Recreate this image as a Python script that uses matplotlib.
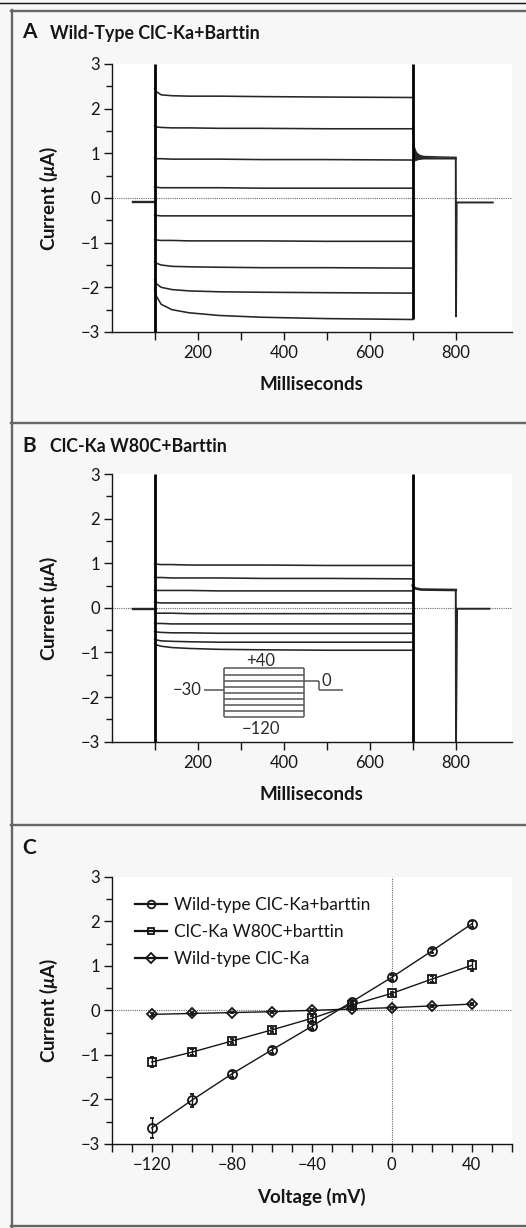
import matplotlib
matplotlib.use('Agg')
import matplotlib.pyplot as plt
from matplotlib.lines import Line2D
from matplotlib.ticker import MultipleLocator, FixedLocator

plt.rcParams['font.family'] = ['Lato', 'DejaVu Sans']
plt.rcParams['mathtext.fontset'] = 'custom'
plt.rcParams['mathtext.it'] = 'Lato:italic:bold'
plt.rcParams['mathtext.rm'] = 'Lato:bold'
plt.rcParams['mathtext.bf'] = 'Lato:bold'
plt.rcParams['axes.unicode_minus'] = True

# ------------------------------------------------------------------ data
# Panel A: wild-type ClC-Ka + barttin, current traces (uA) vs time (ms)
pulse_t = [100, 104, 115, 140, 180, 250, 350, 500, 700]
a_sweeps = [
    [2.45, 2.38, 2.31, 2.29, 2.28, 2.28, 2.27, 2.26, 2.25],
    [1.62, 1.59, 1.58, 1.57, 1.57, 1.56, 1.56, 1.55, 1.55],
    [0.90, 0.88, 0.88, 0.87, 0.87, 0.87, 0.86, 0.86, 0.85],
    [0.25, 0.24, 0.23, 0.23, 0.23, 0.23, 0.22, 0.22, 0.22],
    [-0.38, -0.39, -0.40, -0.40, -0.40, -0.40, -0.40, -0.40, -0.40],
    [-0.93, -0.94, -0.95, -0.95, -0.96, -0.96, -0.96, -0.97, -0.97],
    [-1.42, -1.46, -1.50, -1.53, -1.54, -1.55, -1.56, -1.56, -1.57],
    [-1.83, -1.92, -2.00, -2.05, -2.08, -2.10, -2.11, -2.12, -2.13],
    [-2.05, -2.20, -2.38, -2.50, -2.57, -2.63, -2.67, -2.70, -2.72],
]
pre_t = [50, 100]
a_hold = [-0.10, -0.10]
a_tail_t = [700, 703, 708, 715, 725, 800]
a_tail_hi = [1.60, 1.15, 1.02, 0.96, 0.93, 0.91]
a_tail_lo = [0.80, 0.83, 0.85, 0.87, 0.88, 0.88]
a_post_t = [800, 800.5, 802, 886]
a_post = [0.90, -2.65, -0.10, -0.10]
spike_t = [100, 700]
a_spike_lo = [-3.0, -2.72]
a_spike_hi = [3.0, 3.0]

# Panel B: ClC-Ka W80C + barttin
b_sweeps = [
    [0.99, 0.98, 0.97, 0.97, 0.96, 0.96, 0.96, 0.95, 0.95],
    [0.69, 0.68, 0.68, 0.67, 0.67, 0.67, 0.66, 0.66, 0.65],
    [0.40, 0.39, 0.39, 0.39, 0.39, 0.38, 0.38, 0.38, 0.38],
    [0.12, 0.12, 0.11, 0.11, 0.11, 0.11, 0.11, 0.11, 0.11],
    [-0.12, -0.12, -0.12, -0.12, -0.13, -0.13, -0.13, -0.13, -0.13],
    [-0.34, -0.35, -0.35, -0.36, -0.36, -0.36, -0.36, -0.36, -0.36],
    [-0.53, -0.54, -0.55, -0.56, -0.56, -0.57, -0.57, -0.57, -0.57],
    [-0.70, -0.72, -0.74, -0.75, -0.76, -0.77, -0.77, -0.77, -0.77],
    [-0.80, -0.83, -0.86, -0.89, -0.91, -0.93, -0.94, -0.95, -0.95],
]
b_hold = [-0.02, -0.02]
b_tail_t = [700, 702, 708, 720, 800]
b_tail = [0.50, 0.46, 0.43, 0.41, 0.40]
b_post_t = [800, 800.5, 803, 878]
b_post = [0.40, -3.0, -0.02, -0.02]
b_spike_lo = [-3.0, -3.0]
b_spike_hi = [3.0, 3.0]

# Voltage protocol inset (mV), schematic time units
proto_steps = [40, 20, 0, -20, -40, -60, -80, -100, -120]
proto_hold = -30
proto_tail = 0
proto_t = [0, 150, 750, 865, 1040]

# Panel C: current-voltage relation
volt = [-120, -100, -80, -60, -40, -20, 0, 20, 40]
wt_barttin = [-2.64, -2.02, -1.43, -0.89, -0.36, 0.19, 0.74, 1.33, 1.94]
wt_barttin_err = [0.22, 0.15, 0.07, 0.06, 0.05, 0.04, 0.05, 0.05, 0.06]
w80c = [-1.16, -0.94, -0.69, -0.44, -0.18, 0.12, 0.38, 0.70, 1.01]
w80c_err = [0.12, 0.07, 0.05, 0.05, 0.05, 0.04, 0.04, 0.07, 0.13]
wt = [-0.09, -0.07, -0.05, -0.03, 0.00, 0.03, 0.06, 0.10, 0.14]
wt_err = [0.03, 0.03, 0.02, 0.02, 0.02, 0.02, 0.02, 0.02, 0.03]
c_labels = ['Wild-type ClC-Ka+barttin', 'ClC-Ka W80C+barttin', 'Wild-type ClC-Ka']

titles = ['Wild-Type ClC-Ka+Barttin', 'ClC-Ka W80C+Barttin', '']
letters = ['A', 'B', 'C']

# ------------------------------------------------------------------ layout
W, H = 526, 1228
BG = '#f7f7f7'
fig = plt.figure(figsize=(W / 100, H / 100), dpi=100, facecolor=BG)


def fx(px):
    return px / W


def fy(py):
    return 1 - py / H


def add_axes(top, bottom, left=111.7, right=511.7):
    return fig.add_axes([fx(left), fy(bottom), fx(right - left), (bottom - top) / H])


TRACE = '#262626'
GRID = '#6a6a6a'
BORDER = '#666666'
INK = '#151515'
TICKFS = 12
LABFS = 13.5


def style_axes(ax):
    ax.set_facecolor('white')
    for s in ('top', 'right'):
        ax.spines[s].set_visible(False)
    for s in ('left', 'bottom'):
        ax.spines[s].set_linewidth(1.0)
        ax.spines[s].set_color(INK)
    ax.tick_params(axis='both', which='both', direction='out', color=INK,
                   labelsize=TICKFS, labelcolor=INK, width=1.0)
    ax.tick_params(axis='y', which='major', length=6, pad=2.5)
    ax.tick_params(axis='y', which='minor', length=4.5)
    ax.tick_params(axis='x', which='both', length=5.5, pad=4)
    ax.set_ylim(-3, 3)
    ax.yaxis.set_major_locator(MultipleLocator(1))
    ax.yaxis.set_minor_locator(MultipleLocator(0.5))
    ax.set_ylabel(r'Current ($\mathit{µ}$A)', fontsize=LABFS, fontweight='bold', color=INK)
    ax.yaxis.set_label_coords(-0.128, 0.5)


def trace_panel(ax, sweeps, hold, post_t, post, spike_lo, spike_hi):
    style_axes(ax)
    ax.set_xlim(0, 930)
    ax.xaxis.set_major_locator(FixedLocator([100, 200, 300, 400, 500, 600, 700, 800]))
    ax.xaxis.set_major_formatter(matplotlib.ticker.FuncFormatter(
        lambda v, p: '%d' % v if int(v) % 200 == 0 else ''))
    ax.axhline(0, color=GRID, lw=0.8, ls=(0, (1, 1)), zorder=1)
    ax.plot(pre_t, hold, color=TRACE, lw=1.7, zorder=3)
    for sw in sweeps:
        ax.plot(pulse_t, sw, color=TRACE, lw=1.15, zorder=3)
    ax.plot(post_t, post, color=TRACE, lw=1.4, zorder=3)
    ax.vlines(spike_t, spike_lo, spike_hi, color='#000000', lw=2.0, zorder=4)
    ax.set_xlabel('Milliseconds', fontsize=LABFS, fontweight='bold', color=INK)
    ax.xaxis.set_label_coords(0.5, -0.165)
    ax.xaxis.label.set_va('top')


# Panel A
axA = add_axes(64, 332)
trace_panel(axA, a_sweeps, a_hold, a_post_t, a_post, a_spike_lo, a_spike_hi)
axA.fill_between(a_tail_t, a_tail_lo, a_tail_hi, color=TRACE, lw=0, zorder=3)
axA.plot(a_tail_t, a_tail_hi, color=TRACE, lw=1.0, zorder=3)
axA.plot(a_tail_t, a_tail_lo, color=TRACE, lw=1.0, zorder=3)

# Panel B
axB = add_axes(474, 741.7)
trace_panel(axB, b_sweeps, b_hold, b_post_t, b_post, b_spike_lo, b_spike_hi)
axB.plot(b_tail_t, b_tail, color=TRACE, lw=1.9, zorder=3)

# Protocol inset in panel B
y_lo, y_hi = -2.455, -1.357
ins = axB.inset_axes([215, y_lo, 322, y_hi - y_lo], transform=axB.transData)
ins.set_xlim(proto_t[0], proto_t[-1])
ins.set_ylim(min(proto_steps), max(proto_steps))
ins.axis('off')
PC = '#555555'
kw = dict(color=PC, lw=1.1, clip_on=False)
ins.hlines(proto_steps, proto_t[1], proto_t[2], **kw)
ins.vlines([proto_t[1], proto_t[2]], min(proto_steps), max(proto_steps), **kw)
ins.hlines(proto_hold, proto_t[0], proto_t[1], **kw)
ins.hlines(proto_tail, proto_t[2], proto_t[3], **kw)
ins.vlines(proto_t[3], proto_hold, proto_tail, **kw)
ins.hlines(proto_hold, proto_t[3], proto_t[4], **kw)
mid = (proto_t[1] + proto_t[2]) / 2
TC = '#2a2a2a'
ins.annotate('+%d' % max(proto_steps), (mid - 25, max(proto_steps)), xytext=(0, 1.5),
             textcoords='offset points', ha='center', va='baseline', fontsize=TICKFS, color=TC)
ins.annotate('\u2212%d' % abs(min(proto_steps)), (mid - 25, min(proto_steps)), xytext=(0, -2.5),
             textcoords='offset points', ha='center', va='top', fontsize=TICKFS, color=TC)
ins.annotate('\u2212%d' % abs(proto_hold), (proto_t[0], proto_hold), xytext=(-2, 0),
             textcoords='offset points', ha='right', va='center', fontsize=TICKFS, color=TC)
ins.annotate('%d' % proto_tail, (proto_t[3], proto_tail), xytext=(1.5, 0),
             textcoords='offset points', ha='left', va='center', fontsize=TICKFS, color=TC)

# Panel C
axC = add_axes(876.7, 1144)
style_axes(axC)
axC.set_xlim(-140, 60)
axC.xaxis.set_major_locator(MultipleLocator(10))
axC.xaxis.set_major_formatter(matplotlib.ticker.FuncFormatter(
    lambda v, p: ('%d' % round(v)).replace('-', '\u2212') if round(v) % 40 == 0 else ''))
axC.axhline(0, color=GRID, lw=0.8, ls=(0, (1, 1)), zorder=1)
axC.axvline(0, color=GRID, lw=0.8, ls=(0, (1, 1)), zorder=1)
series = [(wt_barttin, wt_barttin_err, 'o', 6.5), (w80c, w80c_err, 's', 5.2), (wt, wt_err, 'D', 5.6)]
handles = []
for (vals, err, mk, ms), lab in zip(series, c_labels):
    axC.errorbar(volt, vals, yerr=err, color=INK, lw=1.0, elinewidth=1.0, capsize=1.5,
                 capthick=1.0, marker=mk, ms=ms, mfc='none', mec=INK, mew=1.3, zorder=3)
    handles.append(Line2D([], [], color=INK, lw=1.6, marker=mk, ms=ms * 0.85, mfc='none',
                          mec=INK, mew=1.3, label=lab))
leg = axC.legend(handles=handles, loc='upper left', bbox_to_anchor=(0.057, 0.925), frameon=False,
                 fontsize=12.5, handlelength=1.9, handletextpad=0.35, labelspacing=0.63,
                 borderpad=0, borderaxespad=0, numpoints=1)
for t in leg.get_texts():
    t.set_color(INK)
axC.set_xlabel('Voltage (mV)', fontsize=LABFS, fontweight='bold', color=INK)
axC.xaxis.set_label_coords(0.5, -0.165)
axC.xaxis.label.set_va('top')

# Panel letters and titles
for letter, title, base in zip(letters, titles, [38.5, 451.5, 853.5]):
    fig.text(fx(22), fy(base), letter, fontsize=15, fontweight='bold', va='baseline',
             ha='left', color=INK)
    if title:
        fig.text(fx(49.5), fy(base), title, fontsize=12.8, fontweight='bold', va='baseline',
                 ha='left', color=INK)

# Frame lines
fig.add_artist(Line2D([0, 1], [fy(2.5), fy(2.5)], color='#111111', lw=1.0, transform=fig.transFigure))
for py in (10.8, 423.3, 825.0, 1226.0):
    fig.add_artist(Line2D([fx(11), 1], [fy(py), fy(py)], color=BORDER, lw=1.7,
                          transform=fig.transFigure))
fig.add_artist(Line2D([fx(12), fx(12)], [fy(10), fy(1226.8)], color=BORDER, lw=1.7,
                      transform=fig.transFigure))

fig.savefig('out.png', dpi=100, facecolor=BG)
